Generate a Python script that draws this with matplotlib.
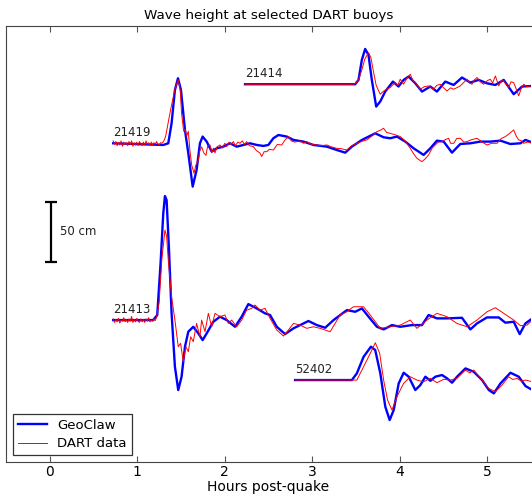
import numpy as np
import matplotlib.pyplot as plt

# Zeitachse in Stunden, Auslenkung in cm relativ zur Ruhelage

# 21414
t_21414_gc = [2.231, 3.490, 3.528, 3.566, 3.604, 3.642, 3.680, 3.730, 3.776, 3.833, 3.921, 3.985,
              4.043, 4.100, 4.177, 4.253, 4.348, 4.424, 4.519, 4.615, 4.710, 4.805, 4.901, 4.996,
              5.091, 5.187, 5.301, 5.397, 5.515]
h_21414_gc = [0, 0, 3.6, 20.3, 29.4, 24.4, 3.6, -18.6, -14.4, -6.1, 2.2, -1.9,
              3.6, 6.4, 0.8, -6.1, -1.9, -6.1, 2.2, -0.6, 5.6, 1.4, 3.6, 0.8,
              -0.6, 3.6, -8.3, -1.9, -1.4]
t_21414_dart = [2.231, 3.471, 3.50, 3.53, 3.566, 3.60, 3.642, 3.67, 3.70, 3.73, 3.776, 3.81,
                3.852, 3.89, 3.92, 3.948, 3.975, 4.005, 4.043, 4.08, 4.119, 4.15, 4.176, 4.233,
                4.28, 4.329, 4.386, 4.42, 4.462, 4.50, 4.539, 4.58, 4.615, 4.691, 4.73, 4.767,
                4.80, 4.824, 4.85, 4.882, 4.92, 4.958, 5.0, 5.034, 5.06, 5.092, 5.13, 5.16,
                5.187, 5.215, 5.244, 5.27, 5.301, 5.33, 5.358, 5.39, 5.416, 5.45, 5.492, 5.515]
h_21414_dart = [0, 0, 1, 4, 12, 21, 26.4, 22, 10, -1, -8.3, -6,
                -4, -2.8, -0.5, 1.4, -1, 4.2, 0, 5, 8.3, 3, 1.4, -4.2,
                -2, -1.4, -4.2, -1, 0, -3, -5.6, -3, -4.2, -1.4, 1.5, 4.2,
                1, 0, 3.5, 5.6, 2, 0, 3, 4.2, 1, 6.9, -1.4, 3,
                2.8, 0, -2.8, 2, 1.4, -4, -9.7, -3, 0, -2, -1.4, -1]

# 21419
t_21419_gc = [0.725, 1.297, 1.354, 1.392, 1.430, 1.465, 1.499, 1.545, 1.583, 1.633, 1.678, 1.716,
              1.747, 1.793, 1.850, 1.907, 1.983, 2.059, 2.136, 2.212, 2.288, 2.365, 2.441, 2.498,
              2.555, 2.613, 2.708, 2.784, 2.899, 3.013, 3.166, 3.280, 3.376, 3.452, 3.567, 3.719,
              3.815, 3.891, 3.967, 4.062, 4.158, 4.272, 4.348, 4.424, 4.501, 4.596, 4.691, 4.806,
              4.920, 5.035, 5.149, 5.263, 5.378, 5.435, 5.515]
h_21419_gc = [0, -1.4, 0, 16.7, 44.4, 54.2, 44.4, 11.1, -8.3, -36.1, -22.2, 0,
              5.6, 1.4, -6.9, -4.2, -2.8, 0, -2.8, -1.4, 0, -1.4, -2.2, -1.4,
              4.2, 6.9, 5.6, 2.8, 1.4, -1.4, -2.8, -5.6, -7.8, -2.8, 2.8, 8.3,
              5.0, 4.2, 5.6, 1.4, -4.2, -9.7, -4.2, 2.2, 1.4, -7.8, -0.6, 0,
              1.4, 1.4, 2.2, -0.6, 0, 2.8, 0.6]
t_21419_dart = [0.725, 0.74, 0.755, 0.77, 0.785, 0.80, 0.815, 0.83, 0.845, 0.86, 0.875, 0.89,
                0.905, 0.92, 0.935, 0.95, 0.965, 0.98, 0.995, 1.01, 1.025, 1.04, 1.055, 1.07,
                1.085, 1.10, 1.115, 1.13, 1.145, 1.16, 1.175, 1.19, 1.205, 1.22, 1.235, 1.25,
                1.265, 1.28, 1.295, 1.31, 1.325, 1.34, 1.36, 1.392, 1.43, 1.468, 1.49, 1.506,
                1.53, 1.545, 1.565, 1.583, 1.60, 1.621, 1.648, 1.67, 1.697, 1.715, 1.735, 1.76,
                1.785, 1.805, 1.831, 1.85, 1.87, 1.888, 1.91, 1.945, 1.97, 2.0, 2.021, 2.05,
                2.07, 2.098, 2.12, 2.15, 2.174, 2.2, 2.225, 2.25, 2.28, 2.326, 2.36, 2.40,
                2.422, 2.45, 2.479, 2.51, 2.555, 2.6, 2.651, 2.69, 2.727, 2.76, 2.80, 2.822,
                2.86, 2.90, 2.937, 2.99, 3.051, 3.10, 3.165, 3.22, 3.28, 3.33, 3.394, 3.45,
                3.509, 3.56, 3.623, 3.68, 3.738, 3.78, 3.814, 3.85, 3.89, 3.95, 4.005, 4.06,
                4.119, 4.16, 4.195, 4.253, 4.29, 4.329, 4.37, 4.405, 4.44, 4.481, 4.52, 4.558,
                4.58, 4.615, 4.65, 4.691, 4.73, 4.767, 4.82, 4.882, 4.94, 4.996, 5.05, 5.111,
                5.16, 5.206, 5.25, 5.301, 5.33, 5.358, 5.39, 5.416, 5.46, 5.515]
h_21419_dart = [2, -1, 1.5, -2, 0.5, -1.5, 2, -2.5, 1, -1, 0.5, -2,
                1.5, -1, 2, -2.5, 0.5, -1.5, 1, -2, 1.5, -0.5, -2, 1,
                -1.5, 2, -1, 0.5, -2, 1, -1.5, 0.5, -1, 1.5, -0.5, -1.5,
                0.5, 0, 1, 3, 6, 12, 20, 32, 45, 52.8, 45, 25,
                10, 12, 6, 10, -5, -18, -25, -18, -14, -6, -3, -8,
                -10, -2, -1.4, -8, -4, -8, -3, -1.4, -4, 0, -2.8, 1,
                -1, 1.4, -2, 1, 0, 2, -1, 1.4, -2, -2.8, -6, -8,
                -11, -7, -7, -5, -5.6, -1, -1.4, 3, 5.6, 2, 1, 1.4,
                2, 0, 1.4, -1, -1.4, -2, -1.4, -3, -4.2, -4.5, -5.6, -2,
                0, 1.5, 2.8, 6, 9.7, 11, 12.5, 9, 8.3, 7, 5.6, 2,
                -4.2, -9, -12.5, -15.3, -13, -9.7, -4, -1.4, 1, 1.4, 3, 4.2,
                0, 0, 4, 4.2, 1, 1.4, 3, 4.2, 1, -1.4, 0, 0,
                4, 5.6, 8, 11.1, 6, 2.8, 2, 0, 1, 0]

# 21413
t_21413_gc = [0.725, 1.182, 1.228, 1.266, 1.297, 1.316, 1.335, 1.361, 1.392, 1.430, 1.468, 1.506,
              1.545, 1.583, 1.640, 1.697, 1.747, 1.793, 1.869, 1.945, 2.021, 2.117, 2.193, 2.269,
              2.365, 2.460, 2.517, 2.594, 2.689, 2.785, 2.956, 3.052, 3.147, 3.243, 3.395, 3.490,
              3.567, 3.643, 3.738, 3.815, 3.910, 4.005, 4.138, 4.253, 4.329, 4.424, 4.539, 4.710,
              4.806, 4.882, 4.996, 5.130, 5.206, 5.301, 5.370, 5.435, 5.515]
h_21413_gc = [0, 0, 4.2, 47.2, 88.9, 103.3, 100, 61.1, 5.6, -38.9, -58.3, -47.2,
              -22.2, -9.7, -5.6, -11.1, -16.7, -11.1, -1.4, 2.8, 0, -5.6, 2.8, 13.3,
              9.7, 5.6, 4.2, -5.6, -11.7, -6.9, -0.8, -4.2, -6.4, 0, 8.3, 6.9,
              9.7, 2.8, -5.6, -7.8, -4.2, -5.6, -4.2, -4.2, 4.2, 1.4, 1.4, 1.9,
              -7.8, -2.8, 2.2, 2.2, -2.2, -1.4, -11.7, -2.8, 1.4]
t_21413_dart = [0.725, 0.74, 0.755, 0.77, 0.785, 0.80, 0.815, 0.83, 0.845, 0.86, 0.875, 0.89,
                0.905, 0.92, 0.935, 0.95, 0.965, 0.98, 0.995, 1.01, 1.025, 1.04, 1.055, 1.07,
                1.085, 1.10, 1.115, 1.13, 1.145, 1.16, 1.175, 1.19, 1.205, 1.22, 1.25, 1.28,
                1.316, 1.335, 1.354, 1.392, 1.43, 1.468, 1.495, 1.525, 1.555, 1.583, 1.61, 1.64,
                1.678, 1.716, 1.735, 1.774, 1.812, 1.85, 1.888, 1.945, 2.002, 2.04, 2.078, 2.136,
                2.193, 2.25, 2.307, 2.345, 2.40, 2.46, 2.517, 2.594, 2.67, 2.727, 2.784, 2.86,
                2.937, 3.013, 3.089, 3.204, 3.318, 3.394, 3.47, 3.585, 3.662, 3.776, 3.89, 4.005,
                4.119, 4.195, 4.31, 4.424, 4.539, 4.653, 4.767, 4.882, 4.996, 5.092, 5.187, 5.301,
                5.378, 5.454, 5.515]
h_21413_dart = [1, -2, 0.5, -1.5, 1.5, -2.5, 0, -1, 2, -1.5, 0.5, -2,
                1, -1, 3, -2, 0.5, -1.5, 1.5, -1, -2, 1, -1.5, 0.5,
                -2, 1, -1, 2, -1.5, 0, -1, 1, -0.5, 2, 15, 50,
                75, 70, 50, 19.4, 0, -22.2, -19.4, -34.7, -22.2, -26.4, -13.9, -18,
                -2.8, -13.9, 0, -9.7, 5.6, -5.6, 5.6, 2.8, 4.2, -2.8, 0, -5.6,
                0, 8.3, 9.7, 12.5, 8.3, 9.7, 1.4, -8.3, -13.3, -8.3, -2.8, -4.2,
                -6.9, -5.6, -6.9, -9.7, 4.2, 6.9, 11.1, 11.1, 4.2, -6.9, -5.6, -4.2,
                0, -6.9, 0, 5.6, 2.8, -2.8, -5.6, 0, 6.9, 10.3, 5.6, 0,
                -4.7, -4.2, 0]

# 52402
t_52402_gc = [2.803, 3.452, 3.509, 3.586, 3.670, 3.719, 3.777, 3.834, 3.884, 3.930, 3.987, 4.044,
              4.101, 4.177, 4.234, 4.292, 4.349, 4.406, 4.482, 4.540, 4.597, 4.654, 4.750, 4.845,
              4.940, 5.017, 5.074, 5.150, 5.264, 5.359, 5.436, 5.515]
h_52402_gc = [0, 0, 5.6, 19.4, 27.8, 25, 5.6, -22.2, -33.3, -25, -2.8, 6.1,
              2.8, -8.3, -4.2, 2.8, -0.6, 2.8, 4.2, 1.4, -2.2, 2.8, 9.7, 6.9,
              0, -8.3, -11.1, -2.8, 6.1, 2.8, -5.0, -8.3]
t_52402_dart = [2.803, 3.509, 3.586, 3.662, 3.72, 3.77, 3.815, 3.86, 3.91, 3.967, 4.043, 4.119,
                4.195, 4.272, 4.348, 4.424, 4.5, 4.577, 4.653, 4.748, 4.80, 4.844, 4.94, 5.015,
                5.092, 5.168, 5.244, 5.29, 5.34, 5.39, 5.435, 5.515]
h_52402_dart = [0, 0, 11.1, 22.2, 31.1, 22.2, 0, -16.7, -25, -13.9, -2.8, 2.8,
                0, -1.4, 1.4, -2.2, 0.6, 0, 1.4, 8.3, 6, 8.3, 0, -6.9,
                -9.7, -4.2, 2.8, 0.5, 1.4, -1, 0, -1.4]

buoys = ['21414', '21419', '21413', '52402']
offsets = [314.8, 265.6, 118.3, 68.3]
gc_t = [t_21414_gc, t_21419_gc, t_21413_gc, t_52402_gc]
gc_h = [h_21414_gc, h_21419_gc, h_21413_gc, h_52402_gc]
dart_t = [t_21414_dart, t_21419_dart, t_21413_dart, t_52402_dart]
dart_h = [h_21414_dart, h_21419_dart, h_21413_dart, h_52402_dart]

fig = plt.figure(figsize=(5.32, 4.96), dpi=100)
ax = fig.add_axes([0.0113, 0.0685, 0.987, 0.879])

for i, name in enumerate(buoys):
    off = offsets[i]
    ax.plot(gc_t[i], np.array(gc_h[i]) + off, color='b', linewidth=1.7,
            label='GeoClaw' if i == 0 else None)
    ax.plot(dart_t[i], np.array(dart_h[i]) + off, color='r', linewidth=0.7,
            label='DART data' if i == 0 else None)
    ax.text(gc_t[i][0], off + 3.5, name, fontsize=8.5, ha='left', va='bottom', color='#222222')

# Massstab 50 cm
ax.errorbar([0.01], [191.7], yerr=[25], color='k', linewidth=1.6, capsize=4, capthick=1.6)
ax.text(0.115, 191.7, '50 cm', fontsize=8.5, va='center', ha='left', color='#222222')

ax.set_xlim(-0.5, 5.5)
ax.set_ylim(0, 363.3)
ax.set_yticks([])
ax.set_xticks([0, 1, 2, 3, 4, 5])
ax.tick_params(axis='x', direction='in', top=True, labelsize=10, length=4, pad=2, color='#555555')
for s in ax.spines.values():
    s.set_color('#444444')
ax.spines['right'].set_visible(False)
ax.set_xlabel('Hours post-quake', fontsize=10, labelpad=1)
ax.set_title('Wave height at selected DART buoys', fontsize=9.7, pad=5)
leg = ax.legend(loc='lower left', fontsize=9.5, fancybox=False, edgecolor='#333333', framealpha=1,
                handlelength=2.2, borderaxespad=0.5, borderpad=0.4, labelspacing=0.4)
leg.get_frame().set_linewidth(0.9)

plt.savefig('out.png', dpi=100)
